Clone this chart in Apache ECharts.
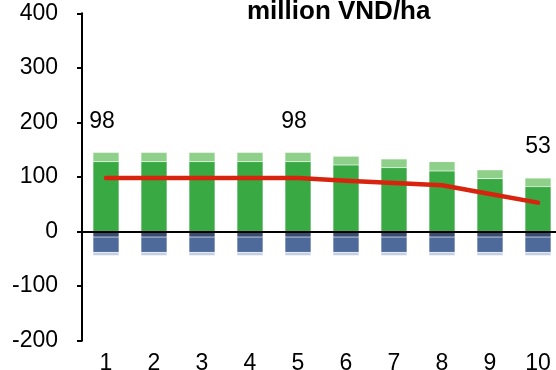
<!DOCTYPE html>
<html>
<head>
<meta charset="utf-8">
<script src="https://cdn.jsdelivr.net/npm/echarts@6/dist/echarts.min.js"></script>
<style>
  html, body { margin: 0; padding: 0; background: #fff; }
  #chart { width: 556px; height: 370px; }
</style>
</head>
<body>
<div id="chart"></div>
<script>
// Categories along the x axis
const categories = ['1', '2', '3', '4', '5', '6', '7', '8', '9', '10'];

// Positive stack (million VND/ha)
const incomeMain  = [128, 128, 128, 128, 128, 122, 117, 111, 97, 82];
const incomeExtra = [17, 17, 17, 17, 17, 16, 16, 17, 16, 16];

// Negative stack (million VND/ha)
const costA = [-10, -10, -10, -10, -10, -10, -10, -10, -10, -10];
const costB = [-28, -28, -28, -28, -28, -28, -28, -28, -28, -28];
const costC = [-6, -6, -6, -6, -6, -6, -6, -6, -6, -6];

// Net line and which points carry a value label
const netValue = [98, 98, 98, 98, 98, 93, 89, 85, 69, 53];
const netLabelShown = [true, false, false, false, true, false, false, false, false, true];
const netLabelShift = [-4, 0, 0, 0, -4, 0, 0, 0, 0, 0];

// Y axis ticks
const yMin = -200, yMax = 400, yStep = 100;

const FONT = '"Liberation Sans", Arial, sans-serif';
const NUM_SIZE = 23;

const chart = echarts.init(document.getElementById('chart'), null, { renderer: 'canvas' });

function barSeries(name, data, color) {
  return {
    name: name,
    type: 'bar',
    stack: 'total',
    stackStrategy: 'samesign',
    barWidth: 26,
    data: data,
    itemStyle: { color: color, borderColor: 'rgba(255,255,255,0.25)', borderWidth: 0.5 },
    silent: true
  };
}

chart.setOption({
  animation: false,
  title: {
    text: 'million VND/ha',
    left: 242,
    top: -6,
    textStyle: { fontFamily: FONT, fontSize: 26, fontWeight: 'bold', color: '#000' }
  },
  grid: {
    left: 82, top: 13.3, width: 480, height: 327.4,
    containLabel: false,
    outerBoundsMode: 'none'
  },
  xAxis: {
    type: 'category',
    data: categories,
    axisLine: { show: false, onZero: false },
    axisTick: { show: false },
    axisLabel: { margin: 11, fontFamily: FONT, fontSize: NUM_SIZE, color: '#000' },
    splitLine: { show: false }
  },
  yAxis: {
    type: 'value',
    min: yMin,
    max: yMax,
    interval: yStep,
    axisLine: { show: true, lineStyle: { color: '#000', width: 2 } },
    axisTick: { show: true, length: 5, lineStyle: { color: '#000', width: 2 } },
    axisLabel: { margin: 24, fontFamily: FONT, fontSize: NUM_SIZE, color: '#000' },
    splitLine: { show: false }
  },
  series: [
    barSeries('income', incomeMain, '#39a944'),
    barSeries('income extra', incomeExtra, '#8ed089'),
    barSeries('cost A', costA, '#394d73'),
    barSeries('cost B', costB, '#4d6a9b'),
    barSeries('cost C', costC, '#c4cfe5'),
    {
      name: 'net',
      type: 'line',
      data: netValue.map((v, i) => ({
        value: v,
        label: { show: netLabelShown[i], offset: [netLabelShift[i], 0] }
      })),
      showSymbol: true,
      symbol: 'circle',
      symbolSize: 1,
      itemStyle: { color: 'rgba(0,0,0,0)' },
      lineStyle: { color: '#d8240e', width: 4.5, cap: 'round', join: 'round' },
      label: {
        show: false,
        position: 'top',
        distance: 44,
        formatter: '{c}',
        fontFamily: FONT,
        fontSize: NUM_SIZE,
        color: '#000'
      },
      markLine: {
        silent: true,
        symbol: ['none', 'none'],
        label: { show: false },
        lineStyle: { color: '#000', width: 2, type: 'solid' },
        data: [{ yAxis: 0 }]
      },
      z: 5
    }
  ]
});
</script>
</body>
</html>
